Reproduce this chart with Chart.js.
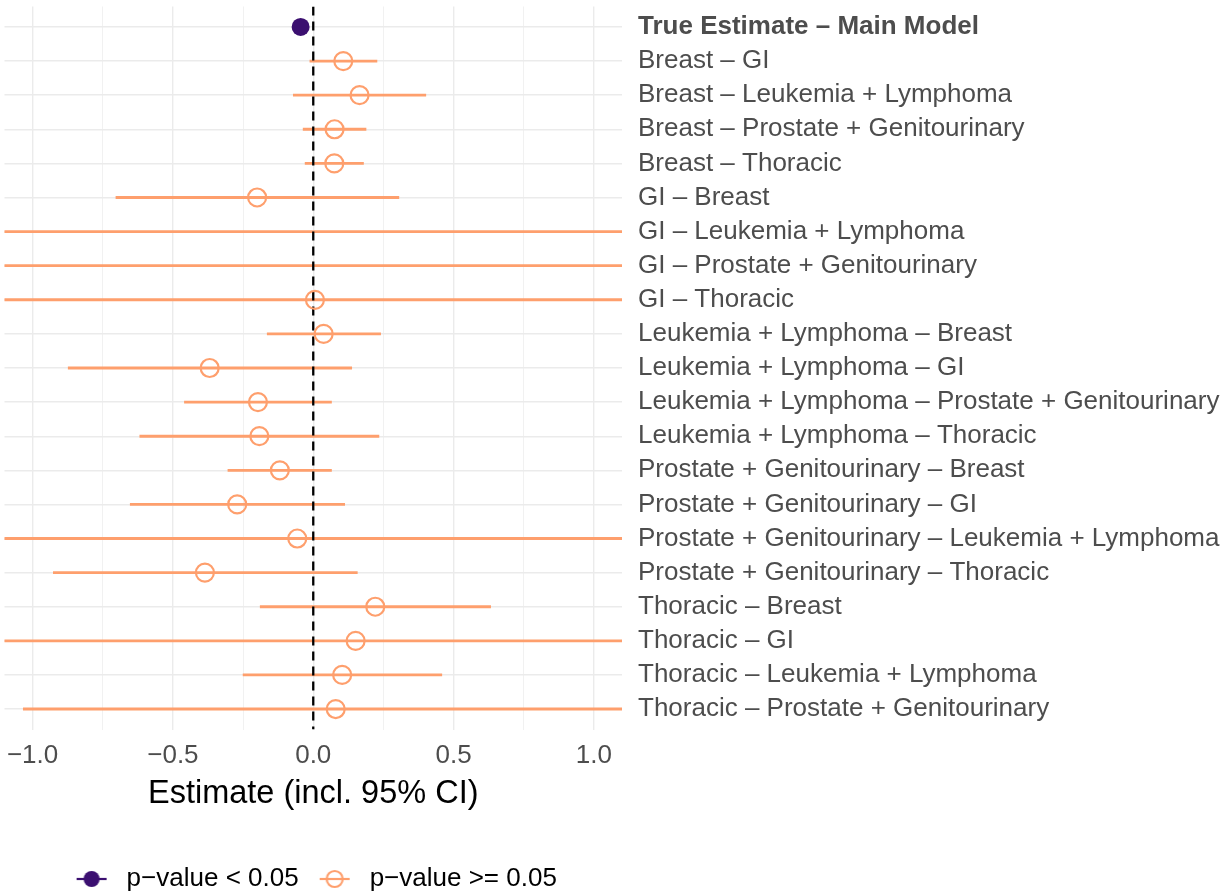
<!DOCTYPE html>
<html>
<head>
<meta charset="utf-8">
<script src="https://cdn.jsdelivr.net/npm/chart.js@4.4.1/dist/chart.umd.min.js"></script>
<style>
  html, body { margin: 0; padding: 0; background: #ffffff; }
  #wrap { width: 1231px; height: 895px; }
</style>
</head>
<body>
<div id="wrap"><canvas id="forest" width="1231" height="895"></canvas></div>
<script>
// Comparisons, top to bottom
const categories = [
  'True Estimate – Main Model',
  'Breast – GI',
  'Breast – Leukemia + Lymphoma',
  'Breast – Prostate + Genitourinary',
  'Breast – Thoracic',
  'GI – Breast',
  'GI – Leukemia + Lymphoma',
  'GI – Prostate + Genitourinary',
  'GI – Thoracic',
  'Leukemia + Lymphoma – Breast',
  'Leukemia + Lymphoma – GI',
  'Leukemia + Lymphoma – Prostate + Genitourinary',
  'Leukemia + Lymphoma – Thoracic',
  'Prostate + Genitourinary – Breast',
  'Prostate + Genitourinary – GI',
  'Prostate + Genitourinary – Leukemia + Lymphoma',
  'Prostate + Genitourinary – Thoracic',
  'Thoracic – Breast',
  'Thoracic – GI',
  'Thoracic – Leukemia + Lymphoma',
  'Thoracic – Prostate + Genitourinary'
];

// Point estimates and 95% confidence bounds
const estimates = [-0.045, 0.107, 0.165, 0.076, 0.075, -0.200, 1.42, -1.31, 0.006, 0.037,
                   -0.369, -0.197, -0.192, -0.119, -0.271, -0.057, -0.386, 0.221, 0.151, 0.103, 0.080];
const lowerCI   = [-0.072, -0.012, -0.071, -0.036, -0.029, -0.703, -1.62, -3.85, -2.90, -0.164,
                   -0.873, -0.459, -0.618, -0.304, -0.652, -2.50, -0.926, -0.189, -2.10, -0.250, -1.033];
const upperCI   = [-0.018, 0.227, 0.401, 0.188, 0.179, 0.305, 4.30, 1.35, 2.90, 0.240,
                   0.137, 0.065, 0.234, 0.065, 0.112, 2.40, 0.157, 0.632, 2.40, 0.458, 1.20];
// 1 = p-value < 0.05
const significant = [1, 0, 0, 0, 0, 0, 0, 0, 0, 0, 0, 0, 0, 0, 0, 0, 0, 0, 0, 0, 0];

// Axis ticks
const xMajorTicks  = [-1.0, -0.5, 0.0, 0.5, 1.0];
const xMajorLabels = ['−1.0', '−0.5', '0.0', '0.5', '1.0'];
const xMinorTicks  = [-0.75, -0.25, 0.25, 0.75];
const referenceValue = 0;
const legendLabels = ['p−value < 0.05', 'p−value >= 0.05'];

const COL_SIG = '#3B0F70';
const COL_NS = '#FE9F6D';
const GRID = '#EBEBEB';
const FONT = "'Liberation Sans', Arial, Helvetica, sans-serif";
const TXT = 26;

Chart.defaults.font.family = FONT;

const yMin = -0.6;
const yMax = categories.length - 1 + 0.6;

const ciBars = categories.map((c, i) => ({ y: i, x: [lowerCI[i], upperCI[i]] }));
const sigPoints = [];
const nsPoints = [];
categories.forEach((c, i) => {
  (significant[i] ? sigPoints : nsPoints).push({ x: estimates[i], y: i });
});

// Legend keys: a short line through the point, like a pointrange key
function makeKey(color, filled) {
  const cv = document.createElement('canvas');
  cv.width = 44; cv.height = 24;
  const g = cv.getContext('2d');
  g.strokeStyle = color;
  g.lineWidth = 2.2;
  g.beginPath(); g.moveTo(7, 12); g.lineTo(37, 12); g.stroke();
  g.beginPath(); g.arc(22, 12, 8, 0, Math.PI * 2);
  if (filled) { g.fillStyle = color; g.fill(); }
  else { g.lineWidth = 2.2; g.stroke(); }
  return cv;
}
const keySig = makeKey(COL_SIG, true);
const keyNs = makeKey(COL_NS, false);

const allXTicks = xMajorTicks.concat(xMinorTicks).sort((a, b) => a - b);
const isMajor = v => xMajorTicks.some(t => Math.abs(t - v) < 1e-9);

new Chart(document.getElementById('forest'), {
  type: 'bar',
  data: {
    datasets: [
      {
        type: 'bar',
        label: 'ci',
        data: ciBars,
        indexAxis: 'y',
        backgroundColor: significant.map(s => s ? COL_SIG : COL_NS),
        borderWidth: 0,
        barThickness: 2.2,
        clip: 0,
        order: 3
      },
      {
        type: 'line',
        label: 'reference',
        data: [{ x: referenceValue, y: yMin }, { x: referenceValue, y: yMax }],
        indexAxis: 'y',
        borderColor: '#000000',
        borderWidth: 2.3,
        borderDash: [9, 6],
        pointRadius: 0,
        fill: false,
        clip: 0,
        order: 2
      },
      {
        type: 'line',
        label: legendLabels[0],
        data: sigPoints,
        indexAxis: 'y',
        showLine: false,
        pointStyle: 'circle',
        pointRadius: 9,
        pointBorderWidth: 0,
        pointBackgroundColor: COL_SIG,
        pointBorderColor: COL_SIG,
        clip: 0,
        order: 1
      },
      {
        type: 'line',
        label: legendLabels[1],
        data: nsPoints,
        indexAxis: 'y',
        showLine: false,
        pointStyle: 'circle',
        pointRadius: 9,
        pointBorderWidth: 2.2,
        pointBackgroundColor: 'rgba(0,0,0,0)',
        pointBorderColor: COL_NS,
        clip: 0,
        order: 1
      }
    ]
  },
  options: {
    responsive: false,
    animation: false,
    indexAxis: 'y',
    layout: { autoPadding: false, padding: { left: 4.5, right: 0, top: 6.5, bottom: 1 } },
    scales: {
      x: {
        type: 'linear',
        position: 'bottom',
        min: -1.1,
        max: 1.1,
        offset: false,
        afterBuildTicks: s => { s.ticks = allXTicks.map(v => ({ value: v })); },
        afterFit: s => { s.height = 122.5; s.paddingLeft = 0; s.paddingRight = 0; },
        grid: {
          color: GRID,
          offset: false,
          lineWidth: ctx => (ctx.tick && isMajor(ctx.tick.value)) ? 1.4 : 0.7,
          drawTicks: false
        },
        border: { display: false },
        ticks: {
          autoSkip: false,
          maxRotation: 0,
          padding: 11,
          color: '#4D4D4D',
          font: { size: TXT },
          callback: v => {
            const k = xMajorTicks.findIndex(t => Math.abs(t - v) < 1e-9);
            return k >= 0 ? xMajorLabels[k] : '';
          }
        },
        title: {
          display: true,
          text: 'Estimate (incl. 95% CI)',
          color: '#000000',
          font: { size: 32.5 },
          padding: { top: 4, bottom: 38.5 }
        }
      },
      y: {
        type: 'linear',
        position: 'right',
        reverse: true,
        min: yMin,
        max: yMax,
        offset: false,
        afterBuildTicks: s => { s.ticks = categories.map((c, i) => ({ value: i })); },
        afterFit: s => { s.width = 609; s.paddingTop = 0; s.paddingBottom = 0; },
        grid: { color: GRID, lineWidth: 1.4, drawTicks: false, offset: false },
        border: { display: false },
        ticks: {
          autoSkip: false,
          padding: 16,
          color: '#4D4D4D',
          font: ctx => ({ size: TXT, weight: ctx.index === 0 ? 'bold' : 'normal' }),
          callback: v => categories[v]
        }
      }
    },
    plugins: {
      tooltip: { enabled: false },
      legend: {
        display: true,
        position: 'bottom',
        fullSize: false,
        maxHeight: 42,
        labels: {
          usePointStyle: true,
          pointStyleWidth: 44,
          padding: 14,
          color: '#000000',
          font: { size: TXT },
          generateLabels: () => [
            { text: legendLabels[0], pointStyle: keySig, fillStyle: COL_SIG, strokeStyle: COL_SIG, lineWidth: 0, hidden: false, datasetIndex: 2, fontColor: '#000000' },
            { text: legendLabels[1], pointStyle: keyNs, fillStyle: COL_NS, strokeStyle: COL_NS, lineWidth: 0, hidden: false, datasetIndex: 3, fontColor: '#000000' }
          ]
        }
      }
    }
  }
});
</script>
</body>
</html>
